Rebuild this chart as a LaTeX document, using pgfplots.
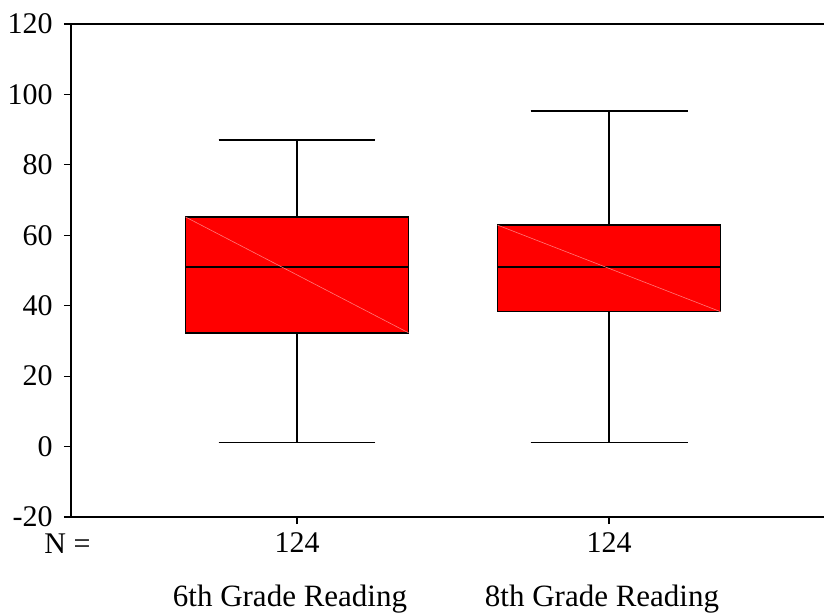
\documentclass[border=0pt]{standalone}
\usepackage{fontspec}
\setmainfont{Liberation Serif}
\usepackage{pgfplots}
\pgfplotsset{compat=1.18}
\usepgfplotslibrary{statistics}
\definecolor{boxred}{RGB}{255,0,0}
\definecolor{diag}{RGB}{255,120,120}
\begin{document}
\begin{tikzpicture}
\useasboundingbox (-35.5pt,-47.5pt) rectangle (376.5pt,258.5pt);
\begin{axis}[at={(0,0)}, anchor=south west, scale only axis,
  width=376.5pt, height=246.5pt,
  xmin=0.2756, xmax=2.689, ymin=-20, ymax=120,
  axis x line*=bottom, axis y line*=left,
  axis line style={line width=1pt},
  xtick={1,2}, xticklabels={124,124},
  ytick={-20,0,20,40,60,80,100,120},
  yticklabels={-20,0,20,40,60,80,100,120},
  tick align=outside, major tick length=3.5pt,
  tick style={black, line width=0.6pt},
  tick label style={font=\fontsize{15}{18}\selectfont},
  xticklabel style={anchor=base, yshift=-14pt},
  yticklabel style={anchor=east, inner sep=0pt, xshift=-5.5pt},
  clip=false,
  boxplot/draw direction=y,
]
\addplot[fill=boxred, draw=black, line width=0.7pt,
  boxplot prepared={draw position=1, lower whisker=1.1, lower quartile=32.3,
    median=51, upper quartile=65.2, upper whisker=87.1,
    box extend=0.715, whisker extend=0.503}] coordinates {};
\addplot[fill=boxred, draw=black, line width=0.7pt,
  boxplot prepared={draw position=2, lower whisker=1.1, lower quartile=38.3,
    median=51, upper quartile=62.9, upper whisker=95.3,
    box extend=0.715, whisker extend=0.503}] coordinates {};
\addplot[diag, line width=0.3pt] coordinates {(0.6425,65.2) (1.3575,32.3)};
\addplot[diag, line width=0.3pt] coordinates {(1.6425,62.9) (2.3575,38.3)};
\draw[line width=1pt] (rel axis cs:0,1) -- (rel axis cs:1,1);
\node[anchor=base, yshift=-18pt, font=\fontsize{15}{18}\selectfont] at (rel axis cs:-0.0046,0) {N =};
\node[anchor=base, yshift=-44.5pt, xshift=-3.5pt, font=\fontsize{15.5}{18}\selectfont] at (axis cs:1,-20) {6th Grade Reading};
\node[anchor=base, yshift=-44.5pt, xshift=-3.5pt, font=\fontsize{15.5}{18}\selectfont] at (axis cs:2,-20) {8th Grade Reading};
\end{axis}
\end{tikzpicture}
\end{document}
